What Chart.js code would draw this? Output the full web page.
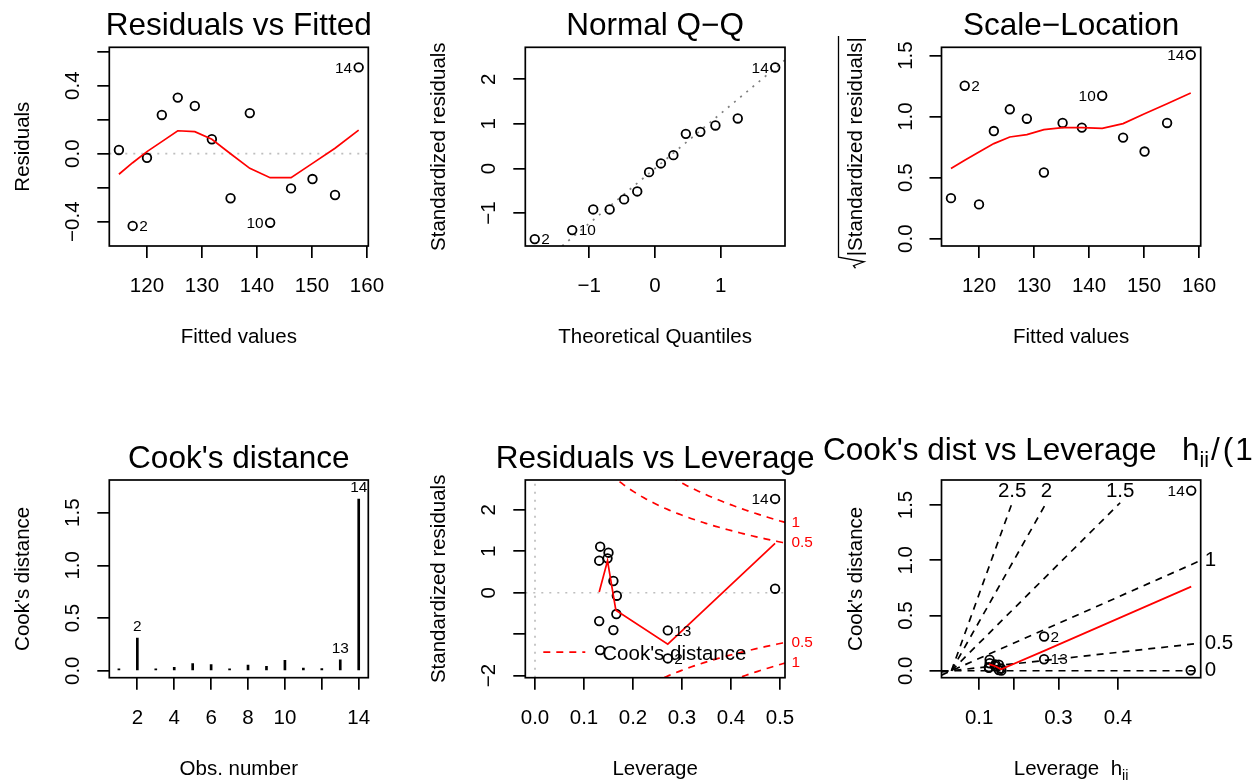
<!DOCTYPE html>
<html>
<head>
<meta charset="utf-8">
<title>lm diagnostics</title>
<script src="https://cdn.jsdelivr.net/npm/chart.js@4.4.1/dist/chart.umd.min.js"></script>
<style>
  html, body { margin: 0; padding: 0; background: #fff; }
  #page { position: relative; width: 1254px; height: 780px; overflow: hidden; background: #fff; }
  #page canvas { position: absolute; left: 0; top: 0; }
</style>
</head>
<body>
<div id="page">
  <canvas id="rvf" width="1254" height="780"></canvas>
  <canvas id="qq" width="1254" height="780"></canvas>
  <canvas id="sl" width="1254" height="780"></canvas>
  <canvas id="cook" width="1254" height="780"></canvas>
  <canvas id="rvl" width="1254" height="780"></canvas>
  <canvas id="cvl" width="1254" height="780"></canvas>
</div>
<script>
// ---- data (one entry per observation unless noted) ----
const obsNumbers = [1, 2, 3, 4, 5, 6, 7, 8, 9, 10, 11, 12, 13, 14];
const fittedValues = [114.9, 117.4, 120.0, 122.7, 125.6, 128.7, 131.8, 135.2, 138.7, 142.4, 146.2, 150.1, 154.2, 158.5];
const residualValues = [0.022, -0.425, -0.024, 0.228, 0.33, 0.281, 0.085, -0.262, 0.239, -0.406, -0.204, -0.149, -0.243, 0.508];
const residSmooth = [-0.121, -0.053, 0.012, 0.071, 0.135, 0.13, 0.085, 0.0, -0.086, -0.141, -0.141, -0.057, 0.032, 0.139];

// normal Q-Q, in sorted order
const qqObs = [2, 10, 13, 8, 11, 12, 3, 1, 7, 4, 9, 6, 5, 14];
const theoQuantiles = [-1.83, -1.26, -0.94, -0.69, -0.47, -0.27, -0.09, 0.09, 0.28, 0.47, 0.69, 0.92, 1.26, 1.83];
const sortedStdResid = [-1.585, -1.383, -0.92, -0.92, -0.695, -0.516, -0.083, 0.112, 0.298, 0.776, 0.821, 0.964, 1.121, 2.265];
const qqLineSlope = 1.23;
const qqLineIntercept = 0.0;

const sqrtAbsStdResid = [0.332, 1.253, 0.281, 0.882, 1.06, 0.983, 0.542, 0.948, 0.91, 1.171, 0.828, 0.714, 0.948, 1.506];
const scaleSmooth = [0.575, 0.643, 0.711, 0.779, 0.833, 0.853, 0.894, 0.91, 0.91, 0.904, 0.943, 1.024, 1.106, 1.193];

const cooksDistance = [0.004, 0.31, 0.001, 0.032, 0.068, 0.058, 0.006, 0.054, 0.043, 0.1, 0.026, 0.02, 0.104, 1.63];

const hatValues = [0.49, 0.271, 0.167, 0.131, 0.133, 0.150, 0.160, 0.160, 0.148, 0.133, 0.131, 0.166, 0.271, 0.49];
const stdResiduals = [0.097, -1.585, -0.072, 0.773, 1.111, 0.966, 0.283, -0.901, 0.83, -1.384, -0.684, -0.514, -0.909, 2.263];
const levSmoothX = [0.131, 0.148, 0.165, 0.271, 0.49];
const levSmoothY = [0.02, 0.77, -0.42, -1.24, 1.19];
const cookLevels = [0.5, 1];
const nParams = 3;

// leverage on the h/(1-h) scale
const hatOdds = [0.958, 0.371, 0.200, 0.150, 0.153, 0.176, 0.190, 0.190, 0.174, 0.153, 0.150, 0.199, 0.371, 0.960];
const oddsSmoothX = [0.150, 0.176, 0.199, 0.371, 0.96];
const oddsSmoothY = [0.06, 0.04, 0.013, 0.18, 0.761];
const contourLevels = [0, 0.5, 1, 1.5, 2, 2.5];
const contourTop = 1.52;

const residIdObs = [2, 10, 14];
const cookIdObs = [2, 13, 14];

// ---- ticks ----
const fittedTicks = [120, 130, 140, 150, 160];
const fittedTickLabels = ['120', '130', '140', '150', '160'];
const residTicks = [-0.4, -0.2, 0, 0.2, 0.4, 0.6];
const residTickLabels = ['\u22120.4', '', '0.0', '', '0.4', ''];
const qqXTicks = [-1, 0, 1];
const qqXTickLabels = ['\u22121', '0', '1'];
const qqYTicks = [-1, 0, 1, 2];
const qqYTickLabels = ['\u22121', '0', '1', '2'];
const halfTicks = [0, 0.5, 1, 1.5];
const halfTickLabels = ['0.0', '0.5', '1.0', '1.5'];
const obsTicks = [2, 4, 6, 8, 10, 12, 14];
const obsTickLabels = ['2', '4', '6', '8', '10', '', '14'];
const levTicks = [0, 0.1, 0.2, 0.3, 0.4, 0.5];
const levTickLabels = ['0.0', '0.1', '0.2', '0.3', '0.4', '0.5'];
const stdTicks = [-2, -1, 0, 1, 2];
const stdTickLabels = ['\u22122', '', '0', '1', '2'];
const oddsTickH = [0.1, 0.2, 0.3, 0.4];
const oddsTickLabels = ['0.1', '', '0.3', '0.4'];

// ---- drawing helpers ----
const FONT = '"Liberation Sans", Arial, Helvetica, sans-serif';
const LW = 1.7;
const AXIS_PX = 20.5, MAIN_PX = 31.5, ID_PX = 15.4;
const ROWS = [[47.3, 246], [480, 677.7]];
const COLS = [[109.3, 368.3], [525.3, 785], [941.5, 1200.7]];

const pairs = (xs, ys) => xs.map((x, i) => ({ x, y: ys[i] }));

function pointSet(data) {
  return { data, showLine: false, pointRadius: 4.3, pointBorderWidth: 1.8,
    pointBorderColor: '#000', pointBackgroundColor: 'rgba(0,0,0,0)', order: 2 };
}
function lineSet(data, color, dash, order) {
  return { data, showLine: true, pointRadius: 0, borderColor: color, borderWidth: LW,
    borderDash: dash || [], tension: 0, fill: false, order: order || 1 };
}

function upText(ctx, str, x, y) {
  ctx.save();
  ctx.translate(x, y);
  ctx.rotate(-Math.PI / 2);
  ctx.fillText(str, 0, 0);
  ctx.restore();
}

// text made of pieces [text, size, dy, gap]; left edge at x, or centred when centre is set
function drawPieces(ctx, pieces, x, y, centre) {
  let total = 0;
  pieces.forEach(([t, size, dy, gap]) => {
    ctx.font = `${size}px ${FONT}`;
    total += ctx.measureText(t).width + (gap || 0);
  });
  let cx = centre ? x - total / 2 : x;
  ctx.textAlign = 'left';
  pieces.forEach(([t, size, dy, gap]) => {
    ctx.font = `${size}px ${FONT}`;
    cx += gap || 0;
    ctx.fillText(t, cx, y + (dy || 0));
    cx += ctx.measureText(t).width;
  });
}

const rPanel = {
  id: 'rpanel',
  afterDatasetsDraw(chart, args, o) {
    const { ctx, chartArea: a } = chart;
    const xs = chart.scales.x, ys = chart.scales.y;
    const cx = (a.left + a.right) / 2, cy = (a.top + a.bottom) / 2;
    ctx.save();
    ctx.strokeStyle = '#000';
    ctx.lineWidth = LW;
    ctx.strokeRect(a.left, a.top, a.right - a.left, a.bottom - a.top);

    ctx.fillStyle = '#000';
    ctx.font = `${AXIS_PX}px ${FONT}`;
    ctx.textAlign = 'center';
    ctx.textBaseline = 'alphabetic';
    o.xTicks.forEach((v, i) => {
      if (o.xLabels[i]) ctx.fillText(o.xLabels[i], xs.getPixelForValue(v), a.bottom + 46);
    });
    o.yTicks.forEach((v, i) => {
      if (o.yLabels[i]) upText(ctx, o.yLabels[i], a.left - 30, ys.getPixelForValue(v));
    });

    if (typeof o.xlab === 'string') ctx.fillText(o.xlab, cx, a.bottom + 97);
    else o.xlab(ctx, cx, a.bottom + 97);
    ctx.font = `${AXIS_PX}px ${FONT}`;
    ctx.textAlign = 'center';
    if (typeof o.ylab === 'string') upText(ctx, o.ylab, a.left - 80, cy);
    else o.ylab(ctx, a.left - 80, cy);

    if (typeof o.main === 'string') {
      ctx.font = `${MAIN_PX}px ${FONT}`;
      ctx.textAlign = 'center';
      ctx.fillText(o.main, cx, a.top - 12);
    } else o.main(ctx, cx, a.top);

    if (o.ids) {
      const { x, y, obs, pick, above } = o.ids;
      const mid = (Math.min(...x) + Math.max(...x)) / 2;
      ctx.font = `${ID_PX}px ${FONT}`;
      ctx.textBaseline = 'middle';
      pick.forEach(n => {
        const i = obs.indexOf(n);
        const px = xs.getPixelForValue(x[i]), py = ys.getPixelForValue(y[i]);
        if (above) { ctx.textAlign = 'center'; ctx.fillText(String(n), px, py - 11); }
        else if (x[i] > mid) { ctx.textAlign = 'right'; ctx.fillText(String(n), px - 6.5, py + 1); }
        else { ctx.textAlign = 'left'; ctx.fillText(String(n), px + 6.5, py + 1); }
      });
    }
    if (o.extra) o.extra(ctx, a, xs, ys);
    ctx.restore();
  }
};

function axis(pos, range, ticks) {
  return {
    type: 'linear', position: pos, min: range[0], max: range[1], offset: false,
    grid: { drawOnChartArea: false, drawTicks: true, tickLength: 12, color: '#000', lineWidth: LW, offset: false },
    border: { display: false },
    ticks: { display: false },
    afterBuildTicks: s => { s.ticks = ticks.map(v => ({ value: v })); },
    afterFit: s => { if (pos === 'bottom') s.height = 12; else s.width = 12; }
  };
}

function panel(id, col, row, cfg) {
  const [l, r] = COLS[col], [t, b] = ROWS[row];
  return new Chart(document.getElementById(id), {
    type: cfg.type || 'scatter',
    data: { datasets: cfg.datasets },
    options: {
      responsive: false,
      animation: false,
      events: [],
      layout: { padding: { left: l - 12, top: t, right: 1254 - r, bottom: 780 - b - 12 } },
      plugins: { legend: { display: false }, tooltip: { enabled: false }, title: { display: false }, rpanel: cfg.frame },
      scales: { x: axis('bottom', cfg.xRange, cfg.frame.xTicks), y: axis('left', cfg.yRange, cfg.frame.yTicks) }
    },
    plugins: [rPanel]
  });
}

// ---- Residuals vs Fitted ----
const rvfX = [113.15, 160.25];
panel('rvf', 0, 0, {
  xRange: rvfX, yRange: [-0.543, 0.626],
  datasets: [
    lineSet(pairs(fittedValues, residSmooth), '#ff0000'),
    lineSet([{ x: rvfX[0], y: 0 }, { x: rvfX[1], y: 0 }], '#bebebe', [2, 6], 3),
    pointSet(pairs(fittedValues, residualValues))
  ],
  frame: {
    xTicks: fittedTicks, xLabels: fittedTickLabels, yTicks: residTicks, yLabels: residTickLabels,
    main: 'Residuals vs Fitted', xlab: 'Fitted values', ylab: 'Residuals',
    ids: { x: fittedValues, y: residualValues, obs: obsNumbers, pick: residIdObs }
  }
});

// ---- Normal Q-Q ----
const qqX = [-1.974, 1.979];
panel('qq', 1, 0, {
  xRange: qqX, yRange: [-1.74, 2.717],
  datasets: [
    lineSet(qqX.map(x => ({ x, y: qqLineIntercept + qqLineSlope * x })), '#7f7f7f', [2, 6], 3),
    pointSet(pairs(theoQuantiles, sortedStdResid))
  ],
  frame: {
    xTicks: qqXTicks, xLabels: qqXTickLabels, yTicks: qqYTicks, yLabels: qqYTickLabels,
    main: 'Normal Q\u2212Q', xlab: 'Theoretical Quantiles', ylab: 'Standardized residuals',
    ids: { x: theoQuantiles, y: sortedStdResid, obs: qqObs, pick: residIdObs }
  }
});

// ---- Scale-Location ----
panel('sl', 2, 0, {
  xRange: [113.18, 160.31], yRange: [-0.06, 1.568],
  datasets: [
    lineSet(pairs(fittedValues, scaleSmooth), '#ff0000'),
    pointSet(pairs(fittedValues, sqrtAbsStdResid))
  ],
  frame: {
    xTicks: fittedTicks, xLabels: fittedTickLabels, yTicks: halfTicks, yLabels: halfTickLabels,
    main: 'Scale\u2212Location', xlab: 'Fitted values',
    ylab: (ctx, x, y) => {
      // square-root sign over |Standardized residuals|
      ctx.save();
      ctx.translate(x, y);
      ctx.rotate(-Math.PI / 2);
      const t = '|Standardized residuals|';
      const w = ctx.measureText(t).width;
      ctx.fillText(t, 0, 0);
      const l = -w / 2;
      ctx.beginPath();
      ctx.moveTo(l - 12, -6);
      ctx.lineTo(l - 9.5, -8);
      ctx.lineTo(l - 5.5, 2.5);
      ctx.lineTo(l - 1, -23);
      ctx.lineTo(w / 2 + 1, -23);
      ctx.lineWidth = 1.3;
      ctx.strokeStyle = '#000';
      ctx.stroke();
      ctx.restore();
    },
    ids: { x: fittedValues, y: sqrtAbsStdResid, obs: obsNumbers, pick: residIdObs }
  }
});

// ---- Cook's distance ----
panel('cook', 0, 1, {
  type: 'bar',
  xRange: [0.48, 14.52], yRange: [-0.066, 1.81],
  datasets: [{
    data: pairs(obsNumbers, cooksDistance), backgroundColor: '#000', borderWidth: 0,
    barThickness: 2, minBarLength: 2
  }],
  frame: {
    xTicks: obsTicks, xLabels: obsTickLabels, yTicks: halfTicks, yLabels: halfTickLabels,
    main: "Cook's distance", xlab: 'Obs. number', ylab: "Cook's distance",
    ids: { x: obsNumbers, y: cooksDistance, obs: obsNumbers, pick: cookIdObs, above: true }
  }
});

// ---- Residuals vs Leverage ----
const rvlX = [-0.0198, 0.5102], rvlY = [-2.05, 2.72];
const hGrid = Array.from({ length: 101 }, (_, i) => 0.005 + i * (rvlX[1] - 0.005) / 100);
const cookCurve = (lev, sign) => hGrid.map(h => ({ x: h, y: sign * Math.sqrt(lev * nParams * (1 - h) / h) }));
const rvlContours = [];
cookLevels.forEach(lev => {
  rvlContours.push(lineSet(cookCurve(lev, 1), '#ff0000', [7, 6]));
  rvlContours.push(lineSet(cookCurve(lev, -1), '#ff0000', [7, 6]));
});
panel('rvl', 1, 1, {
  xRange: rvlX, yRange: rvlY,
  datasets: [
    lineSet(pairs(levSmoothX, levSmoothY), '#ff0000'),
    ...rvlContours,
    lineSet([{ x: rvlX[0], y: 0 }, { x: rvlX[1], y: 0 }], '#bebebe', [2, 6], 3),
    lineSet([{ x: 0, y: rvlY[0] }, { x: 0, y: rvlY[1] }], '#bebebe', [2, 6], 3),
    pointSet(pairs(hatValues, stdResiduals))
  ],
  frame: {
    xTicks: levTicks, xLabels: levTickLabels, yTicks: stdTicks, yLabels: stdTickLabels,
    main: 'Residuals vs Leverage', xlab: 'Leverage', ylab: 'Standardized residuals',
    ids: { x: hatValues, y: stdResiduals, obs: obsNumbers, pick: cookIdObs },
    extra: (ctx, a, xs, ys) => {
      // contour levels in the right margin
      ctx.fillStyle = '#ff0000';
      ctx.font = `${ID_PX}px ${FONT}`;
      ctx.textAlign = 'left';
      ctx.textBaseline = 'middle';
      const h = rvlX[1];
      cookLevels.forEach(lev => {
        const v = Math.sqrt(lev * nParams * (1 - h) / h);
        ctx.fillText(String(lev), a.right + 6.5, ys.getPixelForValue(v));
        ctx.fillText(String(lev), a.right + 6.5, ys.getPixelForValue(-v));
      });
      // legend
      const ly = a.bottom - 25.5;
      ctx.strokeStyle = '#ff0000';
      ctx.lineWidth = LW;
      ctx.setLineDash([7, 6]);
      ctx.beginPath();
      ctx.moveTo(a.left + 18, ly);
      ctx.lineTo(a.left + 60, ly);
      ctx.stroke();
      ctx.setLineDash([]);
      ctx.fillStyle = '#000';
      ctx.font = `${AXIS_PX}px ${FONT}`;
      ctx.textBaseline = 'alphabetic';
      ctx.fillText("Cook's distance", a.left + 77, ly + 8);
    }
  }
});

// ---- Cook's dist vs Leverage h/(1-h) ----
const cvlX = [-0.0397, 0.998], cvlY = [-0.063, 1.726];
const contourSets = contourLevels.map(b => {
  const s = b * b;
  const data = s * cvlX[1] < contourTop
    ? [{ x: cvlX[0], y: s * cvlX[0] }, { x: cvlX[1], y: s * cvlX[1] }]
    : [{ x: 0, y: 0 }, { x: contourTop / s, y: contourTop }];
  return lineSet(data, '#000', [7, 6], 3);
});
panel('cvl', 2, 1, {
  xRange: cvlX, yRange: cvlY,
  datasets: [
    lineSet(pairs(oddsSmoothX, oddsSmoothY), '#ff0000'),
    ...contourSets,
    pointSet(pairs(hatOdds, cooksDistance))
  ],
  frame: {
    xTicks: oddsTickH.map(h => h / (1 - h)), xLabels: oddsTickLabels, yTicks: halfTicks, yLabels: halfTickLabels,
    main: (ctx, cx, top) => drawPieces(ctx, [
      ["Cook's dist vs Leverage  ", MAIN_PX, 0, 0],
      ['h', MAIN_PX, 0, 8],
      ['ii', 21.5, 7, 0],
      ['/', MAIN_PX, 0, 2],
      ['(', MAIN_PX, 0, 3],
      ['1 \u2212 h', MAIN_PX, 0, 2],
      ['ii', 21.5, 7, 0],
      [')', MAIN_PX, 0, 1]
    ], cx - 248, top - 20.5, false),
    xlab: (ctx, cx, y) => drawPieces(ctx, [['Leverage  h', AXIS_PX, 0, 0], ['ii', 14.4, 5, 0]], cx, y, true),
    ylab: "Cook's distance",
    ids: { x: hatOdds, y: cooksDistance, obs: obsNumbers, pick: cookIdObs },
    extra: (ctx, a, xs, ys) => {
      ctx.fillStyle = '#000';
      ctx.font = `${AXIS_PX}px ${FONT}`;
      ctx.textBaseline = 'middle';
      contourLevels.forEach(b => {
        const s = b * b;
        if (s * cvlX[1] < contourTop) {
          ctx.textAlign = 'left';
          ctx.fillText(String(b), a.right + 4, ys.getPixelForValue(s * cvlX[1]));
        } else {
          ctx.textAlign = 'center';
          ctx.fillText(String(b), xs.getPixelForValue(contourTop / s), ys.getPixelForValue(1.62));
        }
      });
    }
  }
});
</script>
</body>
</html>
